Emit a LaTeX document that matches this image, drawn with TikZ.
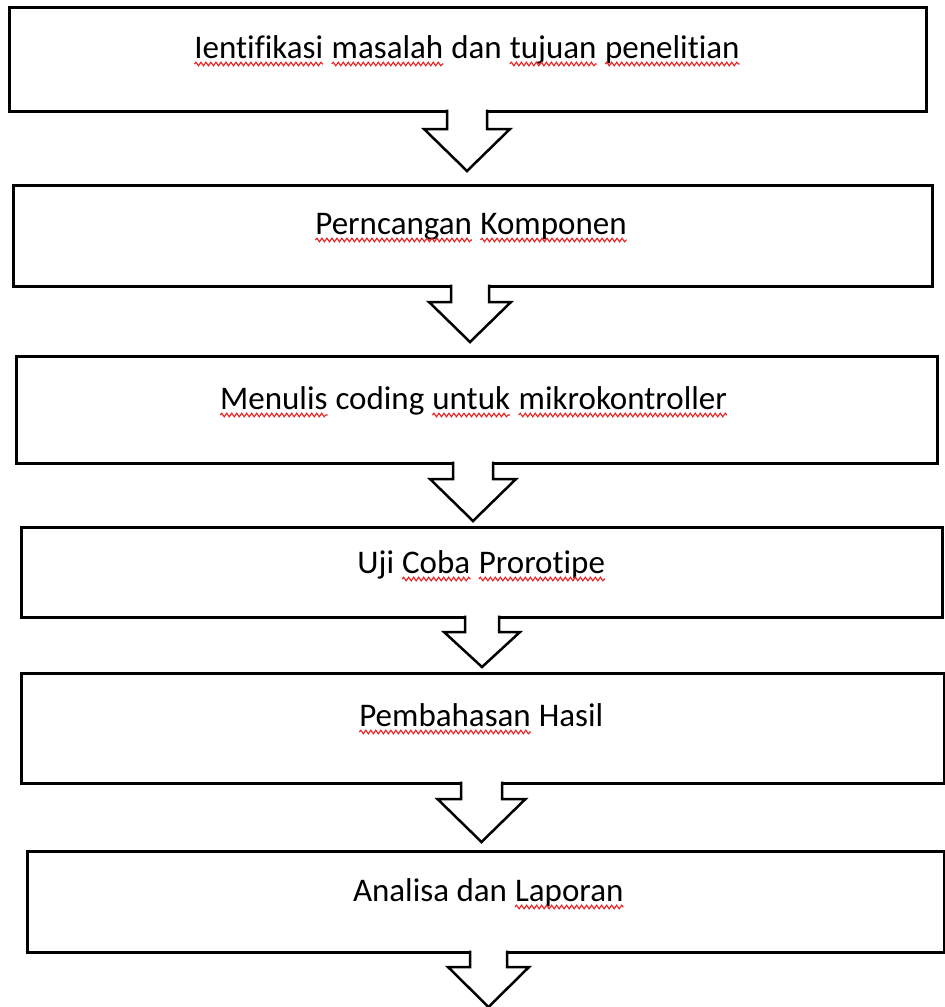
\documentclass[tikz,border=0pt]{standalone}
\usepackage{fontspec}
\setmainfont{Carlito}[Ligatures={NoCommon}]
\usetikzlibrary{calc,decorations.pathmorphing}
\tikzset{
  stepbox/.style={draw=black, line width=3pt, fill=white, inner sep=0pt, outer sep=0pt},
  lbl/.style={inner sep=0pt, outer sep=0pt, anchor=base, font=\fontsize{33}{36}\selectfont},
  arrowline/.style={draw=black, line width=2.5pt, line join=miter},
  spellwave/.style={draw={rgb,255:red,235;green,30;blue,30}, line width=1.1pt,
    decorate, decoration={snake, amplitude=1.8pt, segment length=5pt}}
}
\newcommand\spl[1]{\tikz[baseline=(w.base)]{\node[inner sep=0pt,outer sep=0pt,anchor=base](w){#1};\draw[spellwave]([yshift=-6pt]w.base west)--([yshift=-6pt]w.base east);}}
% #1 box, #2 x offset, #3 stem length, #4 head length, #5 stem half width, #6 head half width
\newcommand\blockarr[6]{%
  \fill[white] ([xshift={(#2-#5)*1pt}, yshift=1.6pt]#1.south) -- ++(0,{-1.6-#3}) -- ++({#5-#6},0)
     -- ++(#6,-#4) -- ++(#6,#4) -- ++({#5-#6},0) -- ++(0,{#3+1.6}) -- cycle;
  \draw[arrowline] ([xshift={(#2-#5)*1pt}, yshift=1.5pt]#1.south) -- ++(0,{-1.5-#3}) -- ++({#5-#6},0)
     -- ++(#6,-#4) -- ++(#6,#4) -- ++({#5-#6},0) -- ++(0,{#3+1.5});
}
\begin{document}
\begin{tikzpicture}[x=1pt,y=1pt]
\useasboundingbox (0,0) rectangle (945,-1007);
\fill[white] (0,0) rectangle (945,-1007);

\node[stepbox, minimum width=917pt, minimum height=104pt] (b1) at (467.5,-59) {};
\node[stepbox, minimum width=919pt, minimum height=101pt] (b2) at (472.5,-235.5) {};
\node[stepbox, minimum width=921pt, minimum height=107pt] (b3) at (476.5,-409.5) {};
\node[stepbox, minimum width=921pt, minimum height=90pt]  (b4) at (481.5,-572) {};
\node[stepbox, minimum width=923pt, minimum height=110pt] (b5) at (482.5,-728) {};
\node[stepbox, minimum width=917pt, minimum height=101pt] (b6) at (485.5,-901.5) {};

\node[lbl] (t1) at (467,-58) {\spl{Ientifikasi} \spl{masalah} dan \spl{tujuan} \spl{penelitian}};
\node[lbl] (t2) at (471,-234) {\spl{Perncangan} \spl{Komponen}};
\node[lbl] (t3) at (473.5,-409) {\spl{Menulis} coding \spl{untuk} \spl{mikrokontroller}};
\node[lbl] (t4) at (481.5,-573) {Uji \spl{Coba} \spl{Prorotipe}};
\node[lbl] (t5) at (481,-726) {\spl{Pembahasan} Hasil};
\node[lbl] (t6) at (488.5,-901) {Analisa dan \spl{Laporan}};

\blockarr{b1}{-0.5}{18}{42}{20}{43}
\blockarr{b2}{-2.5}{16}{40}{19}{41}
\blockarr{b3}{-3.5}{16}{42}{20}{43}
\blockarr{b4}{0.5}{15}{35}{17}{38}
\blockarr{b5}{-1}{16}{43}{20.5}{44}
\blockarr{b6}{3}{15}{40}{18.5}{40.5}
\end{tikzpicture}
\end{document}
